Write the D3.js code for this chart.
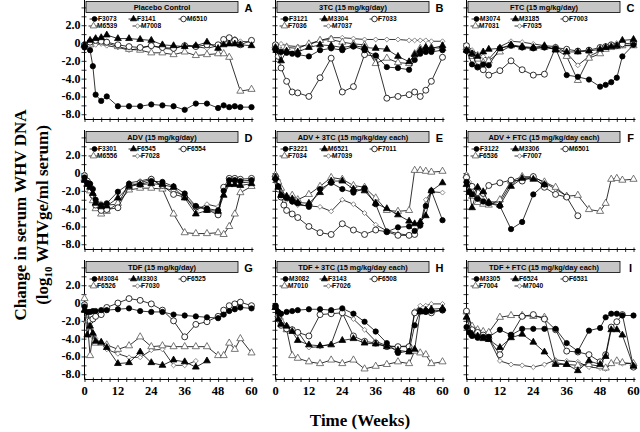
<!DOCTYPE html>
<html><head><meta charset="utf-8">
<script src="https://cdn.jsdelivr.net/npm/d3@7"></script>
<style>body{margin:0;background:#fff}</style>
</head><body><svg id="c" width="640" height="432"></svg>
<script>
const weeks = [0,1,2,3,4,6,8,12,16,20,24,28,32,36,40,44,48,50,52,54,56,60];
const panelLetters = ["A","B","C","D","E","F","G","H","I"];
const panelTitles = ["Placebo Control","3TC (15 mg/kg/day)","FTC (15 mg/kg/day)",
  "ADV (15 mg/kg/day)","ADV + 3TC (15 mg/kg/day each)","ADV + FTC (15 mg/kg/day each)",
  "TDF (15 mg/kg/day)","TDF + 3TC (15 mg/kg/day each)","TDF + FTC (15 mg/kg/day each)"];
const seriesNames = [
  ["F3073","F3141","M6510","M6539","M7008"],
  ["F3121","M3304","F7033","F7036","M7037"],
  ["M3074","M3185","F7003","M7031","F7035"],
  ["F3301","F6545","F6554","M6556","F7028"],
  ["F3221","M6521","F7011","F7034","M7039"],
  ["F3122","M3306","M6501","F6536","F7007"],
  ["M3084","M3303","F6525","F6526","F7030"],
  ["M3082","F3143","F6508","M7010","F7026"],
  ["M3305","F6524","F6531","F7004","M7040"]
];
const _ = null;
const valuesA = [
  [-0.5,_,-0.8,-2.6,-5.8,-6.5,-6.0,-7.1,-7.1,-7.1,-6.9,-7.0,-7.1,-7.5,-6.8,-6.8,-7.3,-7.0,-7.2,-7.1,-7.2,-7.2],
  [-0.2,_,0.3,_,0.5,0.6,0.9,0.5,0.5,0.4,0.3,-0.2,-0.3,-0.4,-0.3,0.1,-0.6,-0.2,-0.1,-0.1,-0.2,-0.3],
  [-0.2,_,0.1,_,0.3,0.2,0.1,-0.2,-0.4,-0.5,-0.3,-0.5,-0.6,-0.3,-0.4,-0.2,-0.2,0.4,0.6,0.3,-0.2,0.3],
  [-0.3,_,-0.2,_,0.4,0.2,0.0,-0.4,-0.7,-0.8,-1.1,-1.1,-1.3,-1.0,-1.4,-1.3,-1.2,-1.2,-1.6,_,-5.4,-5.2],
  [-0.2,_,0.0,_,-0.2,-0.1,-0.3,-0.5,-0.8,-0.6,-0.3,-0.6,-0.7,-0.2,-0.4,-0.6,-0.3,0.1,0.3,0.5,0.2,0.1]
];
const valuesB = [
  [-0.8,_,-1.0,_,-1.1,-1.2,-1.3,-1.5,-0.8,-0.6,-0.8,-0.4,-0.8,-1.4,-2.7,-2.8,-3.0,-1.9,-1.2,-1.0,-1.0,-0.8],
  [-0.5,_,-2.0,_,-0.9,_,-1.0,-0.5,-0.2,-0.3,-0.5,-0.3,-0.5,-0.6,-0.7,-1.5,-2.1,-1.3,-0.8,-0.5,-0.6,-0.3],
  [-0.2,-1.5,-2.8,_,-4.3,-5.5,-5.6,-6.0,-3.9,-1.7,-5.5,-4.9,-1.3,-1.5,-6.2,-6.0,-5.8,-5.5,-6.0,-5.3,-4.3,-1.6],
  [-0.3,_,-0.9,_,-0.5,_,-0.6,-0.1,0.3,0.4,0.1,-0.1,-0.2,-2.3,-1.7,-2.2,-2.3,-1.2,-0.6,-0.5,-0.5,-0.6],
  [-0.2,_,-0.1,_,-0.3,_,-0.4,-0.2,0.3,0.6,0.6,0.5,0.4,0.4,0.4,0.4,0.3,0.3,0.3,0.3,0.2,0.2]
];
const valuesC = [
  [-0.9,_,-2.4,_,-2.7,-2.4,-2.5,-0.6,-0.3,-0.5,-0.6,-0.5,-0.6,-3.6,-3.8,-4.1,-4.9,-4.7,-4.4,-3.9,-1.5,-0.2],
  [-0.8,_,-1.2,_,-1.5,-1.0,-0.7,-0.6,-0.2,-0.4,-0.5,-0.3,-0.8,-1.0,-1.0,-0.9,-0.7,-0.5,-0.4,-0.3,0.3,0.4],
  [-0.3,_,-1.2,_,-2.7,-3.0,-3.6,-3.1,-2.0,-3.0,-3.6,-3.5,-0.5,-0.7,-0.9,-0.8,-0.5,-0.4,-0.2,-0.3,-0.1,0.0],
  [-0.5,_,-1.5,_,-1.8,-2.2,-2.0,-1.0,-0.3,-0.5,-0.6,-0.5,-0.7,-1.5,-4.2,-1.7,-1.2,-0.7,-0.5,-0.4,-0.3,-0.3],
  [-0.2,_,-0.8,_,-1.2,-1.5,-1.8,-0.4,0.2,0.1,-0.1,-0.3,-0.4,-1.1,-2.5,-1.5,-0.9,-0.6,-0.3,0.0,-0.3,-0.2]
];
const valuesD = [
  [-0.5,-1.1,-1.2,-1.8,-3.0,-3.6,-3.4,-2.1,-1.2,-1.3,-0.9,-1.0,-1.5,-2.3,-3.7,-4.0,-4.2,-2.0,-0.8,-0.8,-0.9,-0.8],
  [-0.8,-1.3,-1.6,-2.3,-3.4,-3.8,-3.7,-2.8,-1.5,-1.3,-1.2,-1.3,-1.6,-2.8,-4.6,-4.2,-4.3,-2.5,-1.3,-1.3,-1.4,-1.2],
  [-0.3,-0.9,-1.5,-2.5,-3.6,-4.2,-4.1,-3.9,-1.5,-1.1,-0.7,-1.4,-2.4,-2.7,-3.8,-4.1,-4.7,-1.6,-0.6,-0.6,-0.7,-0.6],
  [-0.6,-1.2,-2.0,-3.1,-4.0,-4.6,-4.3,-3.4,-1.9,-1.7,-1.7,-1.8,-4.6,-6.7,-6.8,-6.8,-6.7,-6.9,-6.0,-4.6,-2.2,-1.5],
  [-0.1,-0.8,-1.2,-2.4,-3.0,-3.4,-3.6,-3.5,-1.1,-0.9,-0.6,-1.6,-2.0,-2.6,-4.2,-3.5,-3.8,-2.0,-0.9,-1.0,-1.1,-1.0]
];
const valuesE = [
  [-0.7,-1.5,-2.5,_,-2.8,-3.2,-3.4,-3.8,-1.8,-1.1,-1.8,-2.2,-1.7,-3.5,-6.6,-6.1,-6.0,-6.5,-5.9,-3.7,-2.0,-5.3],
  [-0.5,-1.6,-2.5,_,-2.6,-2.9,-3.3,-3.4,-2.2,-0.9,-0.9,-1.8,-2.0,-3.4,-4.0,-4.7,-5.4,-5.7,-5.5,-4.8,-2.0,-1.1],
  [-0.4,-1.8,-2.7,-3.6,-4.2,-4.6,-5.0,-6.0,-6.7,-6.9,-5.7,-6.4,-6.9,-6.4,-6.6,-7.0,-7.0,-6.9,_,_,_,_],
  [-0.2,-1.0,-1.7,_,-2.8,-2.5,-3.0,-2.4,-1.5,-0.5,-0.7,-1.4,-1.6,-2.8,-4.2,-4.3,-4.2,0.3,0.3,0.2,0.1,0.2],
  [-0.3,-0.8,-2.0,_,-3.0,-3.3,-3.6,-3.7,-3.8,-4.3,-3.0,-3.5,-4.5,-5.8,-6.5,-6.8,-7.0,-6.8,-6.0,-3.0,-2.1,-2.2]
];
const valuesF = [
  [-1.0,-2.1,-2.4,_,-2.9,-3.2,-3.4,-3.7,-6.3,-5.5,-2.4,-1.3,_,_,_,_,_,_,_,_,_,_],
  [-1.3,-2.2,-3.9,_,-1.6,-2.1,-3.3,-3.6,-1.5,-0.6,-0.7,-1.3,_,_,_,_,_,_,_,_,_,_],
  [-0.5,_,-1.5,_,-2.2,-2.3,-1.4,-1.1,-0.8,-0.9,-0.4,-1.6,-2.4,-2.7,-4.8,_,_,_,_,_,_,_],
  [-0.3,_,-2.6,_,-3.3,-3.5,-3.6,-3.0,-0.9,-0.4,-0.5,-1.0,-1.6,-2.6,-2.5,-4.1,-4.3,-3.4,-0.7,-0.6,-0.8,-0.7],
  [-0.2,-1.0,-1.8,_,-2.7,-3.0,-3.2,-3.3,-1.2,-0.5,-0.4,-1.1,-1.8,-2.6,_,_,_,_,_,_,_,_]
];
const valuesG = [
  [-0.4,-1.0,-1.0,-0.9,-0.9,-0.8,-0.8,-0.7,-0.6,-0.9,-1.0,-1.0,-1.3,-1.4,-1.5,-1.6,-1.7,-1.3,-0.9,-0.7,-0.5,-0.6],
  [-0.8,-3.6,-2.6,-3.4,-4.3,-4.4,-5.0,-6.8,-6.7,-5.5,-6.7,-7.0,-6.4,-6.6,-7.2,-6.5,_,_,_,_,_,_],
  [-0.2,_,-2.0,-1.8,-1.5,-1.3,-0.5,0.0,0.5,0.3,-0.1,-0.8,-2.0,-3.8,-2.4,-2.1,-1.5,-0.8,-0.3,-0.1,0.1,-0.3],
  [0.5,-2.0,-5.9,-3.5,-4.5,-4.5,-4.7,-5.2,-4.8,-3.8,-4.9,-4.8,-4.9,-4.9,-4.9,-4.9,-5.9,-5.9,-4.5,-5.2,-4.0,-5.6],
  [-0.5,-1.5,-2.5,-3.8,-4.0,-4.5,-5.2,-5.7,-6.1,-6.1,-5.3,-5.2,-7.0,-7.0,-6.5,_,_,_,_,_,_,_]
];
const valuesH = [
  [-0.3,-1.0,-1.2,_,-1.0,-0.9,-0.8,-0.7,-0.7,-0.8,-0.6,-1.2,-2.1,-3.2,-4.5,-5.6,-5.4,-2.5,-0.9,-1.0,-0.9,-0.8],
  [-0.5,-1.8,-2.4,_,-2.6,-3.2,-4.2,-4.7,-4.8,-4.7,-4.2,-4.0,-4.5,-4.6,-4.9,-5.3,-5.5,-5.2,-1.0,-0.8,-0.7,-0.6],
  [-0.4,-1.7,-2.5,_,-2.9,-3.0,-3.3,-3.7,-1.3,-1.2,-1.1,-3.7,-4.3,-4.5,-4.9,-4.9,-4.9,-1.1,-0.9,-0.9,-1.1,-0.8],
  [-0.5,-1.3,-2.0,_,-3.0,-5.9,-6.2,-6.6,-6.8,-6.4,-6.8,-6.4,-7.4,-7.1,-6.9,-6.6,-6.8,-5.4,-5.6,-5.8,-6.8,-6.6],
  [-0.2,-1.0,-1.8,_,-2.5,-2.9,-3.2,-5.0,-4.9,-4.6,-1.2,-1.8,-3.0,-4.3,-4.8,-4.9,-4.8,-0.9,-0.3,-0.3,-0.1,-0.1]
];
const valuesI = [
  [-2.7,-3.3,-3.7,_,-3.9,-3.8,-3.8,-3.0,-3.6,-2.9,-2.9,-2.9,-2.9,-4.5,-5.4,-3.1,-2.8,-1.6,-1.2,-1.2,-1.4,-1.4],
  [-1.6,_,-3.5,_,-3.7,-4.0,-4.1,-5.0,-3.9,-3.5,-4.4,-5.5,-6.9,-6.9,-7.6,-6.5,-6.9,-6.0,-3.0,-3.0,-3.6,-7.1],
  [-0.9,_,-3.0,_,-3.3,-3.6,-4.0,-5.8,-3.6,-1.5,-1.3,-1.8,-3.0,-5.4,-5.5,-5.8,-6.6,-5.8,-2.7,-2.1,-1.3,-7.2],
  [-1.0,_,-2.6,_,-3.0,-3.2,-3.3,-1.6,-1.4,-1.4,-1.5,-1.6,-6.7,-6.9,-7.0,-6.9,-7.1,-7.3,-6.8,-6.5,-6.7,-6.8],
  [-1.0,-2.3,-3.0,_,-3.3,-3.6,-4.0,-6.5,-6.9,-7.0,-7.2,-6.9,-6.4,-6.5,-6.6,-7.2,-7.3,-7.4,-6.8,-6.5,-6.8,-6.8]
];
const panelValues = [valuesA,valuesB,valuesC,valuesD,valuesE,valuesF,valuesG,valuesH,valuesI];
const yTickValues = [2,0,-2,-4,-6,-8];
const yTickLabels = ["2.0","0","-2.0","-4.0","-6.0","-8.0"];
const xTickValues = [0,12,24,36,48,60];

// ---- layout ----
const svg = d3.select("#c");
const colX = [84.5, 275.5, 466.5];
const rowY = [0, 130, 260];
const plotW = 167;
const plotH = 119.5;
const serif = "'Liberation Serif','Times New Roman',serif";
const sans = "'Liberation Sans',Arial,sans-serif";

const styles = [
  {shape:d3.symbolCircle, size:22, fill:"#000", stroke:"#000"},
  {shape:d3.symbolTriangle, size:20, fill:"#000", stroke:"#000"},
  {shape:d3.symbolCircle, size:28, fill:"#fff", stroke:"#000"},
  {shape:d3.symbolTriangle, size:22, fill:"#fff", stroke:"#555"},
  {shape:d3.symbolSquare, size:12, fill:"#fff", stroke:"#777", rot:45}
];
function marker(g, st, x, y, scale){
  g.append("path")
    .attr("d", d3.symbol().type(st.shape).size(st.size*(scale||1))())
    .attr("transform", `translate(${x},${y})` + (st.rot?` rotate(${st.rot})`:""))
    .attr("fill", st.fill).attr("stroke", st.stroke).attr("stroke-width", 0.8);
}

panelValues.forEach((vals, p) => {
  const col = p % 3, row = Math.floor(p/3);
  const x0 = colX[col], top = rowY[row];
  const x = d3.scaleLinear().domain([0,60]).range([x0, x0+plotW]);
  const y = d3.scaleLinear().domain([-8.5, 4.8]).range([top+118.7, top+0.3]);
  const g = svg.append("g");

  // axes
  const yAxis = d3.axisLeft(y).tickValues(d3.range(-8,5,1)).tickSize(3).tickFormat("");
  const ya = g.append("g").attr("transform",`translate(${x0},0)`).call(yAxis);
  ya.selectAll(".tick line").attr("x2",-3).attr("x1",2);
  const xAxis = d3.axisBottom(x).tickValues(d3.range(0,61,3)).tickSize(3).tickFormat("");
  const xa = g.append("g").attr("transform",`translate(0,${top+plotH})`).call(xAxis);
  xa.selectAll(".tick line").attr("y1",-2).attr("y2",2.5);
  [ya, xa].forEach(a => { a.select(".domain").attr("stroke","#000").attr("stroke-width",1); a.selectAll(".tick line").attr("stroke","#000").attr("stroke-width",0.8); });
  xa.select(".domain").attr("d", `M${x0},0H${x0+plotW+2}`);
  ya.select(".domain").attr("d", `M0,${top+plotH}V${top}`);

  if (col === 0) {
    yTickValues.forEach((v,i) => {
      g.append("text").attr("x", x0-4).attr("y", y(v)+4).attr("text-anchor","end")
        .attr("font-family", serif).attr("font-weight","bold").attr("font-size",12)
        .text(yTickLabels[i]);
    });
  }
  if (row === 2) {
    xTickValues.forEach(v => {
      g.append("text").attr("x", x(v)).attr("y", top+plotH+15).attr("text-anchor","middle")
        .attr("font-family", serif).attr("font-weight","bold").attr("font-size",12.5)
        .text(v);
    });
  }

  // header
  g.append("rect").attr("x", x0+1.5).attr("y", top+1.5).attr("width", 152).attr("height", 11)
    .attr("fill","#c6c6c6").attr("stroke","#000").attr("stroke-width",0.8);
  g.append("text").attr("x", x0+77.5).attr("y", top+10).attr("text-anchor","middle")
    .attr("font-family", sans).attr("font-weight","bold").attr("font-size",7.4)
    .text(panelTitles[p]);
  g.append("text").attr("x", x0+164).attr("y", top+12).attr("text-anchor","middle")
    .attr("font-family", sans).attr("font-weight","bold").attr("font-size",11)
    .text(panelLetters[p]);

  // legend
  const legPos = [[10,19],[49,19],[99,19],[9,26],[53,26]];
  seriesNames[p].forEach((name,i) => {
    const st = styles[i];
    const lx = x0 + legPos[i][0], ly = top + legPos[i][1];
    g.append("line").attr("x1",lx-5).attr("x2",lx+5).attr("y1",ly).attr("y2",ly)
      .attr("stroke","#000").attr("stroke-width",0.8);
    marker(g, st, lx, ly, 0.85);
    g.append("text").attr("x", lx+3.5).attr("y", ly+2.4)
      .attr("font-family", sans).attr("font-weight","bold").attr("font-size",6.6)
      .text(name);
  });

  // series (draw last-defined first so filled ones end on top)
  const line = d3.line().x(d => x(d[0])).y(d => y(d[1]));
  for (let i = vals.length-1; i >= 0; i--) {
    const pts = weeks.map((w,k) => [w, vals[i][k]]).filter(d => d[1] !== null);
    g.append("path").attr("d", line(pts)).attr("fill","none")
      .attr("stroke","#000").attr("stroke-width",0.8);
    pts.forEach(d => marker(g, styles[i], x(d[0]), y(d[1])));
  }
});

// axis titles
svg.append("text").attr("transform","translate(26,215) rotate(-90)").attr("text-anchor","middle")
  .attr("font-family", serif).attr("font-weight","bold").attr("font-size",17)
  .text("Change in serum WHV DNA");
const t2 = svg.append("text").attr("transform","translate(48,215) rotate(-90)").attr("text-anchor","middle")
  .attr("font-family", serif).attr("font-weight","bold").attr("font-size",17);
t2.append("tspan").text("(log");
t2.append("tspan").attr("font-size",11).attr("dy",4).text("10");
t2.append("tspan").attr("dy",-4).text(" WHVge/ml serum)");
svg.append("text").attr("x",360).attr("y",426).attr("text-anchor","middle")
  .attr("font-family", serif).attr("font-weight","bold").attr("font-size",17)
  .text("Time (Weeks)");
</script></body></html>
